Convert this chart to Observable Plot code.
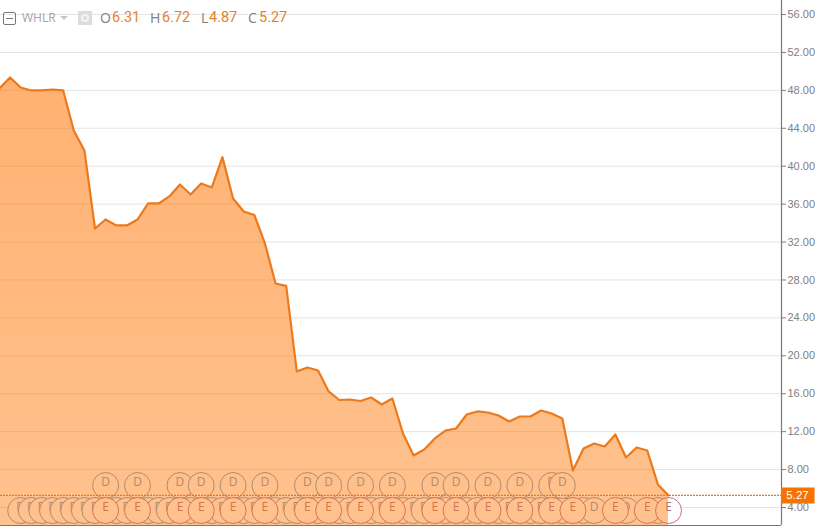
<!DOCTYPE html>
<html>
<head>
<meta charset="utf-8">
<script src="https://cdn.jsdelivr.net/npm/d3@7"></script>
<script src="https://cdn.jsdelivr.net/npm/@observablehq/plot@0.6"></script>
<style>
html,body{margin:0;padding:0;background:#fff;overflow:hidden}
#wrap{position:relative;width:821px;height:527px}
#hdr{position:absolute;left:0;top:0;width:300px;height:36px;font-family:"Open Sans",sans-serif}
#hdr span{position:absolute;white-space:nowrap;line-height:18px}
#hdr .k{top:9px;font-size:14px;color:#808080}
#hdr .v{top:9px;font-size:14.5px;color:#e5832b;font-family:Roboto,sans-serif}
#hdr .sym{left:22px;top:9px;font-size:12px;color:#a5a5a5}
#hdr .box{left:3px;top:12px;width:11px;height:11px;border:1px solid #777;border-radius:2px}
#hdr .box:after{content:"";position:absolute;left:2px;right:2px;top:5px;height:1px;background:#777}
#hdr .tri{left:60px;top:16px;width:0;height:0;border-left:4px solid transparent;border-right:4px solid transparent;border-top:4px solid #c4c4c4}
#hdr .cam{left:78px;top:11px;width:14px;height:14px;background:#dcdcdc}
#hdr .cam:after{content:"";position:absolute;left:3px;top:3px;width:4px;height:4px;border:2px solid #f4f4f4;border-radius:50%}
svg{display:block}
</style>
</head>
<body>
<div id="wrap"><div id="chart"></div><div id="hdr"></div></div>
<script>
const symbol = "WHLR";
const quoteLabels = ["O", "H", "L", "C"];
const quoteValues = ["6.31", "6.72", "4.87", "5.27"];
const closes = [
  48.20, 49.36, 48.30, 47.99, 47.99, 48.09, 47.99, 43.77, 41.66, 33.43, 34.38, 33.75, 33.75, 34.38, 36.07, 36.07,
  36.81, 38.07, 37.02, 38.18, 37.76, 40.95, 36.60, 35.22, 34.86, 31.85, 27.63, 27.37, 18.35, 18.77, 18.45, 16.24,
  15.34, 15.39, 15.23, 15.60, 14.86, 15.50, 11.81, 9.49, 10.12, 11.28, 12.12, 12.33, 13.81, 14.13, 14.02, 13.70,
  13.07, 13.60, 13.60, 14.23, 13.92, 13.39, 7.90, 10.22, 10.75, 10.43, 11.70, 9.27, 10.33, 10.01, 6.43, 5.27
];
const lastPrice = 5.27;
const yTicks = [4, 8, 12, 16, 20, 24, 28, 32, 36, 40, 44, 48, 52, 56];
const upperDividends = [10, 13, 17, 19, 22, 25, 29, 31, 34, 37, 41, 43, 46, 49, 52, 53];
const lowerDividends = [2, 3, 4, 5, 6, 7, 8, 9, 11, 12, 14, 15, 16, 18, 20, 21, 23, 24, 26, 27, 28, 30, 32, 33, 35, 36, 38, 39, 40, 42, 44, 45, 47, 48, 50, 51, 53, 55, 56, 59, 62];
const earnings = [10, 13, 17, 19, 22, 25, 29, 31, 34, 37, 41, 43, 46, 49, 52, 54, 58, 61, 63];

const series = closes.map((close, week) => ({week, close}));
const xDomain = [0.1, 73.64];
const yDomain = [2.1, 57.48];

const gradient = () => {
  const defs = d3.create("svg:defs");
  const g = defs.append("linearGradient").attr("id", "areaFill")
    .attr("x1", 0).attr("x2", 0).attr("y1", 0).attr("y2", 1);
  g.append("stop").attr("offset", "0%").attr("stop-color", "#ff7400").attr("stop-opacity", 0.56);
  g.append("stop").attr("offset", "100%").attr("stop-color", "#ff7400").attr("stop-opacity", 0.44);
  return defs.node();
};

const marker = (weeks, dy, letter, stroke, ink) => weeks.flatMap(week => [
  Plot.dot([week], {x: d => d, frameAnchor: "bottom", dy, r: 13, fill: "#fff", stroke, strokeWidth: 1}),
  Plot.text([week], {x: d => d, frameAnchor: "bottom", dy, text: () => letter, fill: ink, fontSize: 12, fontFamily: "Open Sans, sans-serif"})
]);

const chart = Plot.plot({
  width: 821, height: 527,
  marginLeft: 0, marginRight: 40, marginTop: 0, marginBottom: 2,
  x: {domain: xDomain, axis: null},
  y: {domain: yDomain},
  style: {background: "#fff", overflow: "visible"},
  marks: [
    gradient,
    Plot.gridY(yTicks, {stroke: "#e4e4e4", strokeOpacity: 1}),
    ...marker(lowerDividends, -15, "D", "#6f9cc8", "#6f9cc8"),
    ...marker(upperDividends, -40, "D", "#6f9cc8", "#6f9cc8"),
    ...marker(earnings, -15, "E", "#b9708f", "#a87a8a"),
    Plot.areaY(series, {x: "week", y1: yDomain[0], y2: "close", fill: "url(#areaFill)"}),
    Plot.lineY(series, {x: "week", y: "close", stroke: "#ec7a1c", strokeWidth: 2.2}),
    Plot.ruleY([lastPrice], {stroke: "#f07800", strokeWidth: 1.2, strokeDasharray: "2,1"}),
    Plot.ruleX([xDomain[1]], {stroke: "#7a7a7a", strokeWidth: 1.2}),
    Plot.ruleY([yDomain[0]], {stroke: "#7a7a7a", strokeWidth: 1.2}),
    Plot.axisY(yTicks, {anchor: "right", tickSize: 4, tickPadding: 2, tickFormat: d3.format(".2f"), fontSize: 11, fontFamily: "Liberation Sans, sans-serif", color: "#808080", stroke: "#808080", label: null}),
    Plot.ruleY([lastPrice], {x1: xDomain[1], x2: 76.8, stroke: "#f57300", strokeWidth: 16}),
    Plot.text([lastPrice], {y: d => d, frameAnchor: "right", textAnchor: "middle", dx: 16, text: d => d.toFixed(2), fill: "#fff", fontSize: 11.5, fontFamily: "Liberation Sans, sans-serif"})
  ]
});
document.getElementById("chart").appendChild(chart);

const hdr = document.getElementById("hdr");
const add = (cls, left, text) => {
  const s = document.createElement("span");
  s.className = cls;
  if (left != null) s.style.left = left + "px";
  if (text) s.textContent = text;
  hdr.appendChild(s);
};
add("box"); add("sym", null, symbol); add("tri"); add("cam");
const starts = [100, 150, 201, 248];
const valueStarts = [112, 162, 209, 259];
quoteLabels.forEach((k, i) => { add("k", starts[i], k); add("v", valueStarts[i], quoteValues[i]); });
</script>
</body>
</html>
